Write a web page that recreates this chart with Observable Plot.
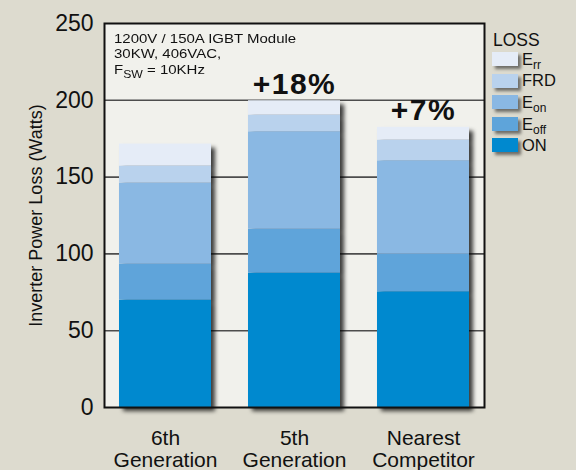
<!DOCTYPE html>
<html>
<head>
<meta charset="utf-8">
<script src="https://cdn.jsdelivr.net/npm/d3@7"></script>
<script src="https://cdn.jsdelivr.net/npm/@observablehq/plot@0.6"></script>
<style>
  html, body { margin: 0; padding: 0; background: #dddbcf; }
  #chart { position: relative; width: 576px; height: 470px; overflow: hidden;
    font-family: "Liberation Sans", Arial, Helvetica, sans-serif; color: #111; }
  #chart svg { position: absolute; left: 0; top: 0; }
  #note { position: absolute; left: 114px; top: 32px; font-size: 13.5px; line-height: 14.5px;
    color: #111; white-space: nowrap; transform: scaleX(1.11); transform-origin: 0 0; }
  #note .l2 { margin-top: 0.5px; }
  #note .l3 { margin-top: 1.5px; }
  #note sub { font-size: 11px; vertical-align: -4px; line-height: 0; }
  #legend { position: absolute; left: 0; top: 0; width: 576px; height: 200px; pointer-events: none; }
  #legend .title { position: absolute; left: 493px; top: 31.7px; font-size: 17.5px; line-height: 17.5px; }
  #legend .sw { position: absolute; left: 492px; width: 26px; height: 14px; box-shadow: 3px 3px 3px rgba(0,0,0,0.5); }
  #legend .lab { position: absolute; left: 522px; font-size: 16.5px; line-height: 16.5px; white-space: nowrap; }
  #legend sub { font-size: 12px; vertical-align: -4px; line-height: 0; }
</style>
</head>
<body>
<div id="chart"></div>
<script>
// ---- data ----
const categories = ["6th Generation", "5th Generation", "Nearest Competitor"];
const categoryLabels = ["6th\nGeneration", "5th\nGeneration", "Nearest\nCompetitor"];
const series = ["ON", "Eoff", "Eon", "FRD", "Err"];
const seriesLabelHTML = ["ON", "E<sub>off</sub>", "E<sub>on</sub>", "FRD", "E<sub>rr</sub>"];
const seriesColors = ["#0089cf", "#5ea4da", "#8ab8e3", "#b9d2ed", "#e5ecf7"];
const lossON   = [69.9, 87.5, 75.3];
const lossEoff = [23.4, 28.6, 24.5];
const lossEon  = [52.8, 63.4, 60.8];
const lossFRD  = [11.1, 10.9, 13.5];
const lossErr  = [14.3, 9.3, 8.3];
const increaseLabels = ["", "+18%", "+7%"];
const yTicks = [0, 50, 100, 150, 200, 250];
const gridValues = [50, 100, 150, 200];
const yLabel = "Inverter Power Loss (Watts)";
const noteLines = ["1200V / 150A IGBT Module", "30KW, 406VAC,", "F<sub>SW</sub> = 10KHz"];
const legendTitle = "LOSS";

// ---- build table ----
const seriesValues = [lossON, lossEoff, lossEon, lossFRD, lossErr];
const rows = [];
series.forEach((s, si) => categories.forEach((c, ci) => rows.push({cat: c, series: s, value: seriesValues[si][ci]})));
const totals = categories.map((c, ci) => ({cat: c, total: d3.sum(seriesValues, v => v[ci]), label: increaseLabels[ci]}));

const font = '"Liberation Sans", Arial, Helvetica, sans-serif';

const plot = Plot.plot({
  width: 576,
  height: 470,
  marginLeft: 104,
  marginRight: 92,
  marginTop: 23,
  marginBottom: 63,
  style: {background: "transparent", fontFamily: font, color: "#111", overflow: "visible"},
  x: {domain: categories, paddingInner: 0.287, paddingOuter: 0.116},
  y: {domain: [0, 250]},
  color: {domain: series, range: seriesColors},
  marks: [
    Plot.frame({fill: "#f1f1ec"}),
    Plot.ruleY(gridValues, {stroke: "#4d4d4d", strokeWidth: 1.6}),
    Plot.barY(rows, {x: "cat", y: "value", fill: "series", order: series, inset: 0}),
    Plot.text(totals, {x: "cat", y: "total", text: "label", dy: -7, lineAnchor: "bottom",
      fontSize: 30, fontWeight: "bold", fill: "#111"}),
    Plot.frame({stroke: "#111", strokeWidth: 2}),
    Plot.axisY({ticks: yTicks, tickSize: 0, tickPadding: 11, fontSize: 23, label: null}),
    Plot.axisX({tickSize: 0, tickPadding: 21.5, fontSize: 21, lineHeight: 1.05, label: null,
      tickFormat: c => categoryLabels[categories.indexOf(c)]}),
    Plot.text([yLabel], {frameAnchor: "left", rotate: -90, dx: -68, fontSize: 18,
      textAnchor: "middle", lineAnchor: "middle", text: d => d, fill: "#111"})
  ]
});

const chart = document.getElementById("chart");
chart.appendChild(plot);

// letter spacing for percent labels
d3.select(plot).selectAll('g[aria-label="text"] text').filter(function() {
  return /%/.test(this.textContent);
}).style("letter-spacing", "1.5px");

// drop shadow for bars
const svg = d3.select(plot);
const defs = svg.insert("defs", ":first-child");
const f = defs.append("filter").attr("id", "barShadow")
  .attr("x", "-10%").attr("y", "-10%").attr("width", "130%").attr("height", "130%");
f.append("feDropShadow").attr("dx", 4).attr("dy", 4).attr("stdDeviation", 2.2)
  .attr("flood-color", "#000").attr("flood-opacity", 0.75);
svg.selectAll('g[aria-label="bar"]').attr("filter", "url(#barShadow)");

// annotation
const note = document.createElement("div");
note.id = "note";
note.innerHTML = noteLines.map((t, i) => `<div class="l${i + 1}">${t}</div>`).join("");
chart.appendChild(note);

// legend
const legend = document.createElement("div");
legend.id = "legend";
let html = `<div class="title">${legendTitle}</div>`;
const order = series.map((s, i) => i).reverse();
order.forEach((si, k) => {
  const top = 52 + k * 21.6;
  html += `<div class="sw" style="top:${top}px;background:${seriesColors[si]}"></div>`;
  html += `<div class="lab" style="top:${top - 1.3}px">${seriesLabelHTML[si]}</div>`;
});
legend.innerHTML = html;
chart.appendChild(legend);
</script>
</body>
</html>
